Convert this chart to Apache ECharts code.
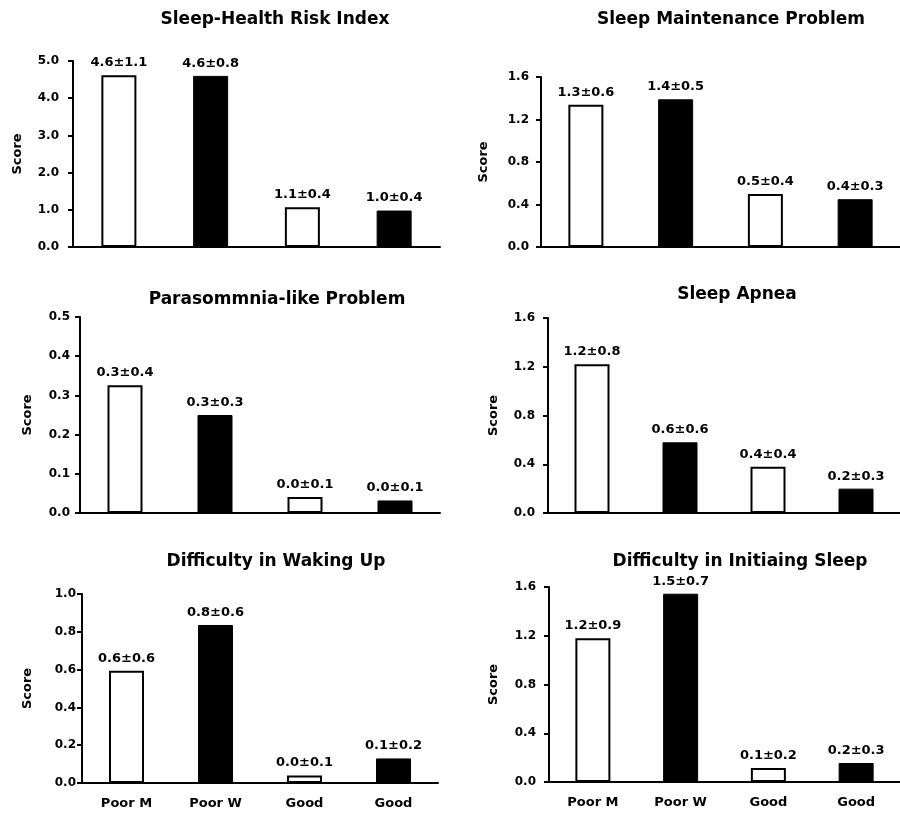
<!DOCTYPE html>
<html>
<head>
<meta charset="utf-8">
<script src="https://cdn.jsdelivr.net/npm/echarts@6/dist/echarts.min.js"></script>
<style>html,body{margin:0;padding:0;background:#fff;}#c{width:900px;height:814px;}</style>
</head>
<body>
<div id="c"></div>
<script>
const categories = ['Poor M', 'Poor W', 'Good', 'Good'];
const titles = ['Sleep-Health Risk Index', 'Sleep Maintenance Problem', 'Parasommnia-like Problem', 'Sleep Apnea', 'Difficulty in Waking Up', 'Difficulty in Initiaing Sleep'];

const riskIndex   = [4.62, 4.60, 1.07, 0.98];
const maintenance = [1.34, 1.39, 0.50, 0.45];
const parasomnia  = [0.326, 0.25, 0.041, 0.032];
const apnea       = [1.22, 0.58, 0.38, 0.20];
const waking      = [0.594, 0.836, 0.04, 0.13];
const initiating  = [1.18, 1.545, 0.115, 0.156];

const riskLabels        = ['4.6±1.1', '4.6±0.8', '1.1±0.4', '1.0±0.4'];
const maintenanceLabels = ['1.3±0.6', '1.4±0.5', '0.5±0.4', '0.4±0.3'];
const parasomniaLabels  = ['0.3±0.4', '0.3±0.3', '0.0±0.1', '0.0±0.1'];
const apneaLabels       = ['1.2±0.8', '0.6±0.6', '0.4±0.4', '0.2±0.3'];
const wakingLabels      = ['0.6±0.6', '0.8±0.6', '0.0±0.1', '0.1±0.2'];
const initiatingLabels  = ['1.2±0.9', '1.5±0.7', '0.1±0.2', '0.2±0.3'];

const yMax      = [5, 1.6, 0.5, 1.6, 1.0, 1.6];
const yInterval = [1, 0.4, 0.1, 0.4, 0.2, 0.4];

const seriesValues = [riskIndex, maintenance, parasomnia, apnea, waking, initiating];
const seriesLabels = [riskLabels, maintenanceLabels, parasomniaLabels, apneaLabels, wakingLabels, initiatingLabels];

// layout (pixels)
const grids = [
  {left: 73,  top: 61,  width: 367, height: 186},
  {left: 541, top: 77,  width: 368, height: 170},
  {left: 80,  top: 317, width: 360, height: 196},
  {left: 548, top: 318, width: 360, height: 195},
  {left: 82,  top: 594, width: 356, height: 189},
  {left: 549, top: 587, width: 360, height: 195}
];
const titlePos = [[275, 20], [731, 20], [277, 300], [737, 295], [276, 562], [740, 562]];
const nameGaps = [49, 51, 46, 48, 48, 49];
const labelMargins = [14, 12, 10, 13, 6, 13];

const FONT = 'DejaVu Sans';
const option = {
  animation: false,
  backgroundColor: '#fff',
  grid: grids.map(g => Object.assign({containLabel: false}, g)),
  graphic: titles.map((t, i) => ({
    type: 'text', x: titlePos[i][0], y: titlePos[i][1],
    style: {text: t, fill: '#000', font: 'bold 17px "' + FONT + '"', textAlign: 'center', textVerticalAlign: 'middle'}
  })),
  xAxis: grids.map((g, i) => ({
    type: 'category', gridIndex: i, data: categories,
    axisLine: {lineStyle: {color: '#000', width: 2}},
    axisTick: {show: false},
    axisLabel: {show: i >= 4, color: '#000', fontFamily: FONT, fontWeight: 'bold', fontSize: 13, margin: 14}
  })),
  yAxis: grids.map((g, i) => ({
    type: 'value', gridIndex: i, min: 0, max: yMax[i], interval: yInterval[i],
    name: 'Score', nameLocation: 'middle', nameRotate: 90, nameGap: nameGaps[i],
    nameTextStyle: {color: '#000', fontFamily: FONT, fontWeight: 'bold', fontSize: 13},
    splitLine: {show: false},
    axisLine: {show: true, lineStyle: {color: '#000', width: 2}},
    axisTick: {show: true, length: 5, lineStyle: {color: '#000', width: 2}},
    axisLabel: {color: '#000', fontFamily: FONT, fontWeight: 'bold', fontSize: 12, margin: labelMargins[i],
      formatter: v => v.toFixed(1)}
  })),
  series: seriesValues.map((vals, i) => ({
    type: 'bar', xAxisIndex: i, yAxisIndex: i, barWidth: 35,
    data: vals.map((v, j) => ({
      value: v,
      itemStyle: (j % 2 === 0) ? {color: '#fff', borderColor: '#000', borderWidth: 2} : {color: '#000', borderColor: '#000', borderWidth: 1}
    })),
    label: {
      show: true, position: 'top', distance: 6, color: '#000',
      fontFamily: FONT, fontWeight: 'bold', fontSize: 13,
      formatter: p => seriesLabels[i][p.dataIndex]
    }
  }))
};
const chart = echarts.init(document.getElementById('c'), null, {renderer: 'canvas'});
chart.setOption(option);
</script>
</body>
</html>
